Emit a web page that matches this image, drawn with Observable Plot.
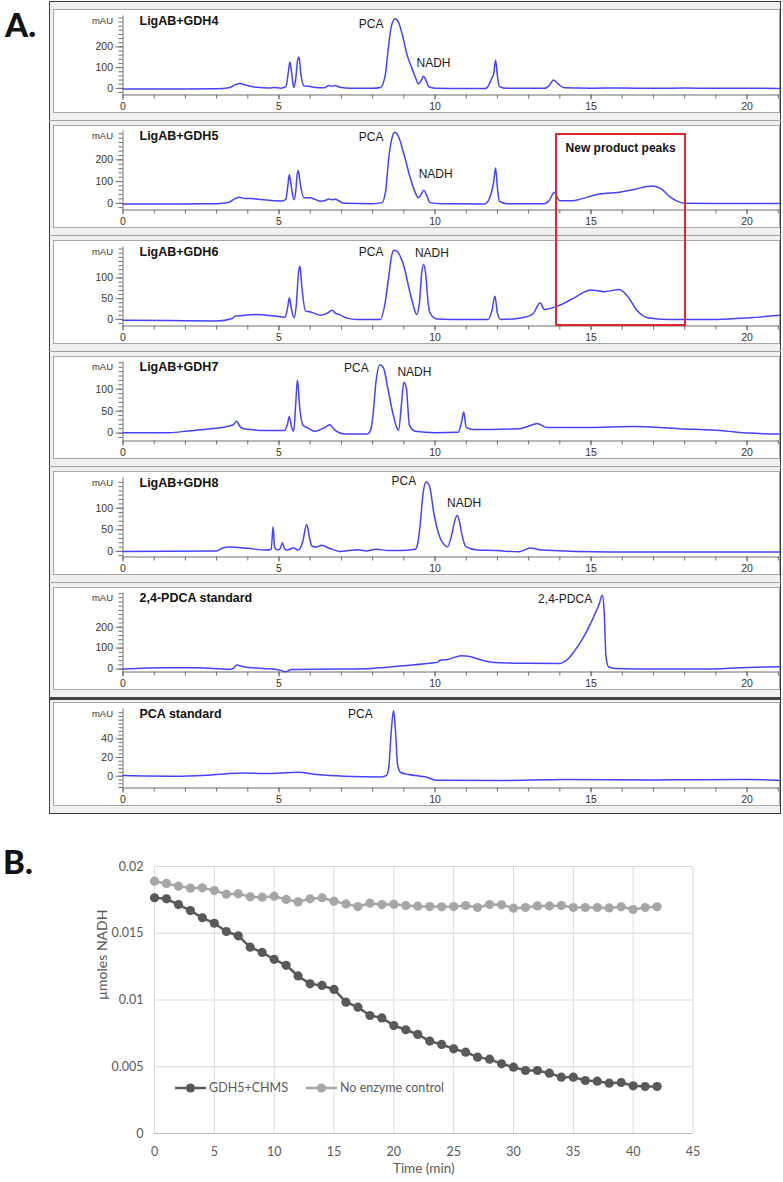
<!DOCTYPE html>
<html><head><meta charset="utf-8">
<script src="https://cdn.jsdelivr.net/npm/d3@7"></script>
<script src="https://cdn.jsdelivr.net/npm/@observablehq/plot@0.6"></script>
<style>
body{margin:0;background:#fff;}
#root{position:relative;width:783px;height:1182px;overflow:hidden;font-family:"Liberation Sans",Arial,sans-serif;}
.abs{position:absolute;}
</style></head><body><div id="root"></div>
<script>
// ---------- Panel A: chromatograms (time in min, absorbance in mAU) ----------
const panelTitles = ["LigAB+GDH4","LigAB+GDH5","LigAB+GDH6","LigAB+GDH7","LigAB+GDH8","2,4-PDCA standard","PCA standard"];
const xTickLabels = [0,5,10,15,20];
const xMinorTicks = [0,1,2,3,4,5,6,7,8,9,10,11,12,13,14,15,16,17,18,19,20,21];

const gdh4 = [[0,-3],[1,-3],[2,-3],[3,-2],[3.4,3],[3.6,18],[3.75,24],[3.95,15],[4.3,5],[4.7,2],[4.85,4],[5.05,1],[5.22,8],[5.3,80],[5.35,127],[5.41,70],[5.47,5],[5.53,40],[5.6,140],[5.64,151],[5.7,70],[5.8,12],[6.0,9],[6.2,4],[6.45,3],[6.6,14],[6.7,10],[6.8,14],[6.95,5],[7.3,0],[8.0,0],[8.25,4],[8.4,60],[8.5,190],[8.6,300],[8.72,336],[8.82,322],[8.95,260],[9.1,164],[9.25,100],[9.35,62],[9.47,22],[9.55,35],[9.63,59],[9.72,35],[9.8,8],[10.0,1],[11,-1],[11.6,-1],[11.72,15],[11.8,43],[11.88,70],[11.94,135],[12.0,60],[12.06,10],[12.3,0],[13.5,0],[13.65,12],[13.8,40],[13.95,20],[14.15,3],[15,1],[16,2],[17,0],[18,2],[19,0],[20,1],[21.05,-1]];
const gdh5 = [[0,-3],[2,-3],[3,-2],[3.4,5],[3.6,22],[3.73,28],[3.9,22],[4.1,22],[4.4,17],[4.84,12],[5.1,10],[5.22,20],[5.29,90],[5.33,132],[5.39,80],[5.48,16],[5.54,60],[5.58,130],[5.62,151],[5.68,90],[5.8,25],[6.0,25],[6.15,18],[6.33,9],[6.5,14],[6.6,20],[6.7,16],[6.8,19],[6.95,8],[7.1,0],[8.0,-2],[8.3,3],[8.42,60],[8.52,212],[8.62,300],[8.71,327],[8.82,310],[9.0,228],[9.2,120],[9.35,55],[9.47,25],[9.55,40],[9.64,60],[9.72,40],[9.84,3],[10.2,-2],[11.6,-3],[11.72,15],[11.81,51],[11.88,100],[11.94,163],[12.0,70],[12.06,10],[12.3,-2],[13.5,-2],[13.65,12],[13.83,51],[13.92,25],[14.0,12],[14.4,12],[14.95,31],[15.27,43],[15.91,51],[16.34,62],[16.77,77],[16.98,80],[17.25,66],[17.52,31],[17.78,9],[18.0,0],[19,-1],[21.05,-1]];
const gdh6 = [[0,-2],[1.5,-3],[3,-4],[3.5,2],[3.6,8],[3.8,9],[4.23,12],[4.87,8],[5.19,5],[5.28,30],[5.33,52],[5.4,25],[5.48,4],[5.56,40],[5.62,110],[5.67,129],[5.73,80],[5.85,20],[6.01,18],[6.15,14],[6.33,10],[6.55,15],[6.7,22],[6.8,15],[6.92,12],[7.18,3],[7.5,0],[8.25,0],[8.4,40],[8.52,105],[8.6,150],[8.68,167],[8.78,165],[8.9,150],[9.0,129],[9.2,64],[9.3,35],[9.41,12],[9.5,40],[9.57,110],[9.63,133],[9.7,110],[9.78,40],[9.84,15],[10.06,1],[10.5,0],[11.7,0],[11.82,20],[11.92,56],[12.0,15],[12.1,0],[12.7,3],[13.12,12],[13.37,40],[13.5,24],[13.93,32],[14.46,52],[14.99,71],[15.42,67],[15.9,72],[16.17,56],[16.49,20],[16.81,4],[17.45,0],[19.05,0],[20.1,4],[21.05,10]];
const gdh7 = [[0,1],[1.5,1],[2.09,5],[2.83,10],[3.41,16],[3.55,20],[3.64,27],[3.75,15],[3.86,10],[4.59,6],[5.18,6],[5.27,20],[5.33,38],[5.4,15],[5.47,4],[5.53,60],[5.59,121],[5.66,60],[5.77,18],[5.92,12],[6.14,4],[6.45,12],[6.62,19],[6.8,6],[7.09,-2],[7.83,-2],[7.95,10],[8.0,33],[8.12,124],[8.23,155],[8.34,150],[8.49,101],[8.64,48],[8.76,15],[8.83,6],[8.93,70],[9.0,116],[9.08,103],[9.18,18],[9.37,4],[10,1],[10.74,2],[10.85,25],[10.92,48],[11.0,13],[11.21,8],[12.69,10],[13.13,19],[13.27,22],[13.57,13],[14.89,13],[16.37,15],[17.84,10],[19.31,5],[20.04,0],[21.05,-2]];
const gdh8 = [[0,0],[3.0,1],[3.19,8],[3.41,10],[4.0,7],[4.59,3],[4.75,5],[4.81,57],[4.86,10],[4.95,3],[5.05,8],[5.11,20],[5.18,6],[5.25,3],[5.47,8],[5.62,3],[5.75,20],[5.89,62],[5.98,30],[6.06,12],[6.2,10],[6.36,14],[6.65,6],[6.95,0],[7.53,4],[7.8,1],[8.12,5],[8.5,2],[8.86,2],[9.37,5],[9.45,20],[9.52,59],[9.62,136],[9.71,161],[9.82,152],[9.96,90],[10.08,50],[10.18,28],[10.3,15],[10.4,11],[10.55,43],[10.63,70],[10.71,84],[10.78,70],[10.85,43],[10.99,11],[11.36,3],[11.95,2],[12.69,-1],[13.05,8],[13.42,3],[15.63,-1.5],[18.57,-1.5],[21.05,-1.5]];
const pdcaStd = [[0,0],[1.35,6],[2.38,6],[3.41,-1.5],[3.55,5],[3.64,19],[3.86,11],[4.5,3],[5.03,-5],[5.21,-13],[5.4,-2],[6.8,0],[7.98,3],[9.0,16],[9.96,30],[10.1,33],[10.15,42],[10.4,46],[10.85,64],[11.07,61],[11.51,42],[11.8,33],[12.69,28],[14.01,27],[14.2,40],[14.45,82],[14.75,150],[15.04,235],[15.26,310],[15.36,352],[15.42,278],[15.48,58],[15.56,11],[15.78,3],[17.1,0],[18.57,0],[20.04,8],[21.05,11]];
const pcaStd = [[0,0.7],[1.65,0],[2.83,1.4],[3.86,3.5],[4.59,2.8],[5.62,4.2],[6.21,1.8],[7.09,0],[8.27,-0.7],[8.45,1],[8.52,10],[8.59,45],[8.67,70],[8.74,45],[8.8,12],[8.9,4],[9.15,1.8],[9.74,-1],[10.03,-4.2],[11.95,-4.6],[14.16,-3.5],[17.1,-3.9],[20.04,-3.5],[21.05,-4.6]];

const peakLabels4 = [{label:"PCA",t:7.95,v:311},{label:"NADH",t:9.95,v:122}];
const peakLabels5 = [{label:"PCA",t:7.95,v:303},{label:"NADH",t:10.02,v:132}];
const peakLabels6 = [{label:"PCA",t:7.95,v:163},{label:"NADH",t:9.9,v:160}];
const peakLabels7 = [{label:"PCA",t:7.48,v:147},{label:"NADH",t:9.34,v:138}];
const peakLabels8 = [{label:"PCA",t:9.0,v:163},{label:"NADH",t:10.93,v:112}];
const peakLabelsPdca = [{label:"2,4-PDCA",t:14.17,v:335}];
const peakLabelsPca = [{label:"PCA",t:7.61,v:67}];

const yTickLabels = [[0,100,200],[0,100,200],[0,50,100],[0,50,100],[0,50,100],[0,100,200],[0,20,40]];
const yMinorSteps = [20,20,10,10,10,20,4];
const yDomains = [[-32,349],[-31,333],[-16,175],[-18,162],[-13,170],[-14,363],[-12.6,72]];
const traces = [gdh4,gdh5,gdh6,gdh7,gdh8,pdcaStd,pcaStd];
const peakLabels = [peakLabels4,peakLabels5,peakLabels6,peakLabels7,peakLabels8,peakLabelsPdca,peakLabelsPca];
const boxText = "New product peaks";
const boxSpan = [13.9, 18.03];   // min
const boxTopValue = 315;          // mAU on GDH5 panel

// ---------- Panel B: NADH consumption ----------
const timeMin = [0,1,2,3,4,5,6,7,8,9,10,11,12,13,14,15,16,17,18,19,20,21,22,23,24,25,26,27,28,29,30,31,32,33,34,35,36,37,38,39,40,41,42];
const gdh5Chms = [0.01766,0.01758,0.01715,0.0167,0.01616,0.01575,0.01513,0.01481,0.01396,0.01356,0.01305,0.0126,0.0118,0.01121,0.01109,0.01079,0.00984,0.00946,0.00884,0.00866,0.00809,0.00777,0.00742,0.00692,0.00667,0.00634,0.00609,0.00572,0.00557,0.00522,0.00497,0.00472,0.00472,0.00452,0.00422,0.00422,0.00397,0.00392,0.00377,0.00382,0.00357,0.00352,0.00352];
const noEnzyme = [0.0189,0.01873,0.01853,0.01838,0.0184,0.0182,0.01793,0.01795,0.01773,0.0177,0.01778,0.01753,0.01735,0.01758,0.01766,0.0174,0.0172,0.017,0.01725,0.01715,0.01718,0.01708,0.01703,0.017,0.01698,0.017,0.01708,0.01693,0.01715,0.01713,0.01688,0.01693,0.01705,0.01705,0.01708,0.01693,0.01693,0.01693,0.0169,0.01698,0.01678,0.01693,0.01698];
const seriesNames = ["GDH5+CHMS","No enzyme control"];
const bXTicks = [0,5,10,15,20,25,30,35,40,45];
const bYTicks = [0,0.005,0.01,0.015,0.02];

// ---------- build ----------
const root = document.getElementById("root");
function box(style, text){const d=document.createElement("div");d.className="abs";Object.assign(d.style,style);if(text!=null)d.textContent=text;root.appendChild(d);return d;}

box({left:"49px",top:"1px",width:"732px",height:"813px",border:"1.5px solid #3a3a3a",boxSizing:"border-box",background:"#f0f0f0"});

const PITCH = 115.5;
const blue = "#4343ff";
const axisCol = "#6e6e6e";
const plots = [];
for (let k = 0; k < 7; k++) {
  const T = k * PITCH;
  box({left:"52.5px",top:(T+9)+"px",width:"727px",height:"103.5px",border:"1px solid #a6a6a6",boxSizing:"border-box",background:"#fff"});
  if (k < 6) box({left:"49px",top:(T+119.5)+"px",width:"732px",height:(k===5?"2.5px":"1px"),background:(k===5?"#444":"#a0a0a0")});
  const dom = yDomains[k];
  const step = yMinorSteps[k];
  const yMinor = d3.range(Math.ceil(dom[0]/step)*step, dom[1], step);
  const fig = Plot.plot({
    width: 726, height: 102,
    marginLeft: 69.5, marginRight: 0, marginTop: 5.5, marginBottom: 17.5,
    x: {domain: [0, 21.04]},
    y: {domain: dom},
    style: {background: "none", fontFamily: "'Liberation Sans', Arial, sans-serif", overflow: "visible"},
    marks: [
      Plot.axisX({ticks: xMinorTicks, tickSize: 4, tickFormat: () => "", stroke: axisCol, label: null}),
      Plot.axisX({ticks: xTickLabels, tickSize: 5, tickPadding: 2.5, tickFormat: d => String(d), fontSize: 10.5, fill: "#3a3226", stroke: axisCol, label: null}),
      Plot.axisY({ticks: yMinor, tickSize: 4, tickFormat: () => "", stroke: axisCol, label: null}),
      Plot.axisY({ticks: yTickLabels[k], tickSize: 7, tickPadding: 3, tickFormat: d => String(d), fontSize: 10.5, fill: "#3a3226", stroke: axisCol, label: null}),
      Plot.ruleY([dom[0]], {stroke: axisCol}),
      Plot.ruleX([0], {stroke: axisCol}),
      Plot.line(traces[k], {x: d => d[0], y: d => d[1], stroke: blue, strokeWidth: 1.5, curve: "monotone-x"}),
      Plot.text(peakLabels[k], {x: "t", y: "v", text: "label", fontSize: 12, fill: "#1a1a1a"}),
      Plot.text([panelTitles[k]], {frameAnchor: "top-left", dx: 16.5, dy: 5, textAnchor: "start", lineAnchor: "middle", fontWeight: "bold", fontSize: 12.5, fill: "#111"}),
      Plot.text(["mAU"], {frameAnchor: "top-left", dx: -10, dy: 4.5, textAnchor: "end", lineAnchor: "middle", fontSize: 9.5, fill: "#3a3226"})
    ]
  });
  fig.classList.add("abs");
  fig.style.left = "53px";
  fig.style.top = (T + 9.5) + "px";
  root.appendChild(fig);
  plots.push({fig, T});
}

// red annotation box spanning GDH5 and GDH6 panels
{
  const p2 = plots[1], p3 = plots[2];
  const xs = p2.fig.scale("x"), y2 = p2.fig.scale("y"), y3 = p3.fig.scale("y");
  const left = 53 + xs.apply(boxSpan[0]);
  const right = 53 + xs.apply(boxSpan[1]);
  const top = p2.T + 9.5 + y2.apply(boxTopValue);
  const bottom = p3.T + 9.5 + y3.apply(yDomains[2][0]);
  box({left:(left-1)+"px",top:(top-1)+"px",width:(right-left+2)+"px",height:(bottom-top+2)+"px",border:"2px solid #e3262b",boxSizing:"border-box"});
  box({left:left+"px",top:(top+7)+"px",width:(right-left)+"px",textAlign:"center",fontWeight:"bold",fontSize:"12px",color:"#111",lineHeight:"14px"}, boxText);
}

// panel letters
box({left:"5px",top:"4px",fontFamily:"Lato, sans-serif",fontWeight:"900",fontSize:"33px",color:"#111",lineHeight:"40px"}, "A.");
box({left:"3px",top:"841px",fontFamily:"Lato, sans-serif",fontWeight:"900",fontSize:"33px",color:"#111",lineHeight:"40px"}, "B.");

// ---------- Panel B plot ----------
const bFont = "Lato, sans-serif";
const bRows = timeMin.map((t, i) => ({t, a: gdh5Chms[i], b: noEnzyme[i]}));
const figB = Plot.plot({
  width: 783, height: 342,
  marginLeft: 154, marginRight: 90.5, marginTop: 26, marginBottom: 49,
  x: {domain: [0, 45]},
  y: {domain: [0, 0.02]},
  style: {background: "none", fontFamily: bFont, overflow: "visible"},
  marks: [
    Plot.gridX({ticks: bXTicks, stroke: "#d9d9d9", strokeOpacity: 1}),
    Plot.gridY({ticks: bYTicks, stroke: "#d9d9d9", strokeOpacity: 1}),
    Plot.ruleY([0], {stroke: "#bfbfbf", strokeWidth: 1.2}),
    Plot.axisX({ticks: bXTicks, tickSize: 0, tickPadding: 13.5, fontSize: 12.5, fill: "#595959", tickFormat: d => String(d), label: null}),
    Plot.axisY({ticks: bYTicks, tickSize: 0, tickPadding: 11, fontSize: 12.5, fill: "#595959", tickFormat: d => String(d), label: null}),
    Plot.text(["Time (min)"], {frameAnchor: "bottom", dy: 39, fontSize: 13.5, fill: "#595959"}),
    Plot.text(["µmoles NADH"], {frameAnchor: "left", dx: -52, rotate: -90, fontSize: 14, fill: "#595959"}),
    Plot.line(bRows, {x: "t", y: "b", stroke: "#a6a6a6", strokeWidth: 2.5}),
    Plot.dot(bRows, {x: "t", y: "b", r: 4.6, fill: "#a6a6a6"}),
    Plot.line(bRows, {x: "t", y: "a", stroke: "#595959", strokeWidth: 2.5}),
    Plot.dot(bRows, {x: "t", y: "a", r: 4.6, fill: "#595959"})
  ]
});
figB.classList.add("abs");
figB.style.left = "0px";
figB.style.top = "840px";
root.appendChild(figB);

// legend (inside plot area)
{
  const lg = d3.create("svg").attr("width", 320).attr("height", 20).attr("class", "abs")
    .style("left", "170px").style("top", "1078px").style("overflow", "visible");
  const items = [{x0: 5, col: "#595959"}, {x0: 136, col: "#a6a6a6"}];
  items.forEach((it, i) => {
    lg.append("line").attr("x1", it.x0).attr("x2", it.x0 + 31).attr("y1", 10).attr("y2", 10).attr("stroke", it.col).attr("stroke-width", 2.5);
    lg.append("circle").attr("cx", it.x0 + 15.5).attr("cy", 10).attr("r", 4.6).attr("fill", it.col);
    lg.append("text").attr("x", it.x0 + 34).attr("y", 10).attr("dy", "0.35em").attr("font-family", bFont).attr("font-size", 12.5).attr("fill", "#595959").text(seriesNames[i]);
  });
  root.appendChild(lg.node());
}
</script>
</body></html>
